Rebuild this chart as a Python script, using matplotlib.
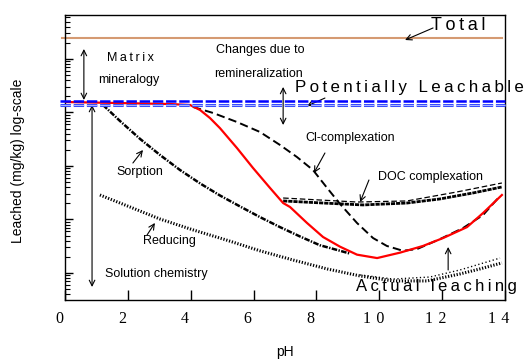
import numpy as np
import matplotlib
matplotlib.use("Agg")
import matplotlib.pyplot as plt
from matplotlib.transforms import ScaledTranslation, blended_transform_factory

plt.rcParams['font.family'] = ['Liberation Sans', 'DejaVu Sans']
plt.rcParams['lines.scale_dashes'] = False

# leaching curves, pH vs leached amount (mg/kg)
actual_ph = [0, 3.34, 3.98, 4.30, 4.61, 4.93, 5.47, 5.98, 6.52, 6.94, 7.16, 7.70, 8.21,
             8.75, 9.29, 9.93, 10.66, 11.39, 12.03, 12.79, 13.30, 13.90]
actual_val = [15700, 14400, 13800, 11100, 7900, 5100, 2170, 920, 390, 203, 171, 86, 47,
              31, 22, 19, 24, 32, 45, 72, 132, 287]

cl_ph = [4.07, 4.71, 5.47, 6.20, 6.84, 7.38, 7.89, 8.34, 8.75, 9.29, 9.80, 10.24,
         10.75, 11.20, 11.93, 12.66, 13.30, 13.84]
cl_val = [12700, 9800, 6640, 4330, 2470, 1470, 840, 388, 195, 86, 45, 32,
          26, 28, 43, 69, 121, 275]

sorp_ph = [1.21, 1.75, 2.39, 3.02, 3.66, 4.30, 4.93, 5.57, 6.20, 6.84, 7.48, 8.11, 8.75, 9.07]
sorp_val = [13800, 6930, 3200, 1610, 840, 471, 281, 175, 111, 72, 48, 33, 26, 23]

doc_ph = [6.94, 8.21, 9.48, 10.88, 11.93, 12.98, 13.90]
doc_val = [222, 203, 187, 203, 242, 313, 405]
doc2_ph = [6.94, 9.29, 10.88, 12.47, 13.90]
doc2_val = [252, 212, 222, 327, 481]

red_ph = [1.11, 2.07, 3.02, 4.07, 5.15, 6.20, 7.25, 8.34, 9.39, 10.44, 11.52, 12.57, 13.20, 13.90]
red_val = [287, 171, 102, 64, 41, 26, 17.5, 11.9, 8.8, 7.1, 7.1, 9.6, 11.9, 15.4]
red2_ph = [9.39, 10.44, 11.61, 12.57, 13.84]
red2_val = [9.2, 7.7, 8.4, 11.4, 19]

total_val = 247000
leachable_val = [16050, 13800]

xticks = [0, 2, 4, 6, 8, 10, 12, 14]
xtick_labels = ['0', '2', '4', '6', '8', '1\u20040', '1\u20042', '1\u20044']

fig = plt.figure(figsize=(5.29, 3.61), dpi=100)
ax = fig.add_axes([0.1229, 0.169, 0.8318, 0.7894])
ax.set_yscale('log')
ax.set_xlim(0, 14)
ax.set_ylim(10 ** 0.495, 10 ** 5.822)

# reference levels
ax.plot([-0.1, 13.9], [total_val, total_val], color='#d59a72', lw=1.5, clip_on=False)
ax.plot(actual_ph, actual_val, color='red', lw=1.6, zorder=3)
ax.plot([-0.15, 14], [leachable_val[0]] * 2, color='#0000ff', lw=1.8,
        dashes=(7.5, 2), clip_on=False, zorder=4)
ax.plot([-0.15, 14], [leachable_val[1]] * 2, color='#3346ff', lw=2.2,
        dashes=(7.5, 2), clip_on=False, zorder=4)
ax.plot([-0.15, 14], [leachable_val[1]] * 2, color='#a8b4ff', lw=0.8,
        dashes=(7.5, 2), clip_on=False, zorder=4)

# process curves
ax.plot(cl_ph, cl_val, color='black', lw=1.4, dashes=(6, 3), zorder=2)
ax.plot(sorp_ph, sorp_val, color='black', lw=1.8, linestyle=(0, (4, 1, 1, 1)), zorder=2)
ax.plot(doc_ph, doc_val, color='black', lw=2, linestyle=(0, (3, 0.7)), zorder=2)
ax.plot(doc2_ph, doc2_val, color='black', lw=0.9, dashes=(4, 2), zorder=2)
ax.plot(red_ph, red_val, color='black', lw=2.2, linestyle=(0, (0.9, 1.2)), zorder=2)
ax.plot(red2_ph, red2_val, color='black', lw=1, linestyle=(0, (0.9, 1.8)), zorder=2)

arrow = dict(arrowstyle='->', color='black', lw=0.8, shrinkA=0, shrinkB=0)
arrow2 = dict(arrowstyle='<->', color='black', lw=0.8, shrinkA=0, shrinkB=0)
small = dict(fontsize=9)

def sp(s):
    return '\u2009'.join(s)

ax.text(12.5, 10 ** 5.63, sp('Total'), ha='center', va='center', fontsize=13)
ax.annotate('', xy=(10.82, 10 ** 5.355), xytext=(11.71, 10 ** 5.58), arrowprops=arrow)

ax.text(2.07, 10 ** 5.02, sp('Matrix'), ha='center', va='center', **small)
ax.text(2.04, 10 ** 4.607, 'mineralogy', ha='center', va='center', **small)
ax.annotate('', xy=(0.6, 10 ** 4.234), xytext=(0.6, 10 ** 5.187), arrowprops=arrow2)

ax.text(6.2, 10 ** 5.168, 'Changes due to', ha='center', va='center', **small)
ax.text(6.17, 10 ** 4.72, 'remineralization', ha='center', va='center', **small)
ax.annotate('', xy=(6.94, 10 ** 3.766), xytext=(6.94, 10 ** 4.477), arrowprops=arrow2)

ax.text(7.32, 10 ** 4.458, sp('Potentially Leachable'), ha='left', va='center', fontsize=12.2)
ax.annotate('', xy=(7.70, 10 ** 4.121), xytext=(8.27, 10 ** 4.27), arrowprops=arrow)

ax.text(7.64, 10 ** 3.523, 'Cl-complexation', ha='left', va='center', **small)
ax.annotate('', xy=(7.92, 10 ** 2.869), xytext=(8.27, 10 ** 3.243), arrowprops=arrow)

ax.text(9.96, 10 ** 2.794, 'DOC complexation', ha='left', va='center', **small)
ax.annotate('', xy=(9.39, 10 ** 2.327), xytext=(9.67, 10 ** 2.738), arrowprops=arrow)

ax.text(1.65, 10 ** 2.888, 'Sorption', ha='left', va='center', **small)
ax.annotate('', xy=(2.48, 10 ** 3.299), xytext=(2.16, 10 ** 3.056), arrowprops=arrow)

ax.text(2.48, 10 ** 1.598, 'Reducing', ha='left', va='center', **small)
ax.annotate('', xy=(2.86, 10 ** 1.935), xytext=(2.61, 10 ** 1.71), arrowprops=arrow)

ax.text(1.27, 10 ** 0.981, 'Solution chemistry', ha='left', va='center', **small)
ax.annotate('', xy=(0.86, 10 ** 0.738), xytext=(0.86, 10 ** 4.14), arrowprops=arrow2)

ax.text(9.26, 10 ** 0.738, sp('Actual leaching'), ha='left', va='center', zorder=5, fontsize=12)
ax.annotate('', xy=(12.19, 10 ** 1.486), xytext=(12.19, 10 ** 1.056), arrowprops=arrow)

# axes styling; x labels drawn by hand so they can sit a little left of the ticks
ax.set_xticks(xticks)
ax.tick_params(axis='x', direction='in', length=7, width=1, top=False, labelbottom=False)
lab_tr = blended_transform_factory(ax.transData, ax.transAxes) + \
    ScaledTranslation(-0.06, -0.19, fig.dpi_scale_trans)
for xv, lab in zip(xticks, xtick_labels):
    ax.text(xv, 0, lab, transform=lab_tr, ha='center', va='center',
            family='Liberation Serif', fontsize=11.5)
ax.tick_params(axis='y', which='major', direction='in', length=6, width=1,
               labelleft=False, right=False)
ax.tick_params(axis='y', which='minor', direction='in', length=3.5, width=0.8, right=False)
for s in ax.spines.values():
    s.set_linewidth(1)

fig.text(0.539, 1 - 352 / 361, 'pH', ha='center', va='center', fontsize=10)
fig.text(0.034, 1 - 161 / 361, 'Leached (mg/kg) log-scale', rotation=90,
         ha='center', va='center', fontsize=10)

fig.savefig('out.png', dpi=100)
